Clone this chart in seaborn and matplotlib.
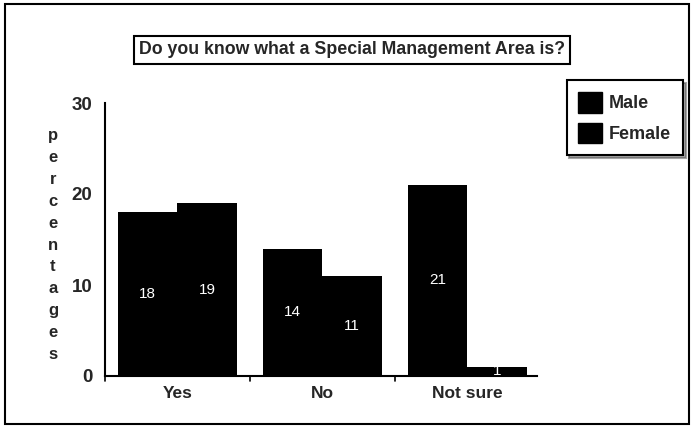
import matplotlib
matplotlib.use("Agg")
import matplotlib.pyplot as plt
import seaborn as sns
import pandas as pd
from matplotlib.patches import Rectangle, Patch

categories = ["Yes", "No", "Not sure"]
male = [18, 14, 21]
female = [19, 11, 1]
series = ["Male", "Female"]
yticks = [0, 10, 20, 30]

df = pd.DataFrame({
    "answer": categories * 2,
    "sex": ["Male"] * 3 + ["Female"] * 3,
    "pct": male + female,
})

sns.set_style("white")
plt.rcParams["font.family"] = ["Liberation Sans", "DejaVu Sans"]

fig = plt.figure(figsize=(6.94, 4.28), dpi=100)
ax = fig.add_axes([105/694, 1-376/428, (537-105)/694, (376-103)/428])

sns.barplot(data=df, x="answer", y="pct", hue="sex", order=categories,
            hue_order=series, palette=["black", "black"], width=0.82, gap=0,
            edgecolor="black", linewidth=0, ax=ax, legend=False)

for c in ax.containers:
    ax.bar_label(c, label_type="center", color="white", fontsize=11)

ax.set_xlim(-0.5, 2.48)
ax.set_ylim(0, 30)
ax.set_yticks(yticks)
ax.set_yticklabels([str(t) for t in yticks], fontsize=13.5, fontweight="bold")
ax.set_xticks([0, 1, 2])
ax.set_xticklabels(categories, fontsize=12.5, fontweight="bold")
ax.tick_params(axis="x", length=0, pad=7)
ax.tick_params(axis="y", length=0, pad=9)
for xb in [-0.5, 0.5, 1.5]:
    ax.plot([xb, xb], [0, -0.6], color="black", lw=1.2, clip_on=False)
ax.set_xlabel("")
ax.set_ylabel("")
sns.despine(ax=ax)
ax.spines["left"].set_linewidth(1.5)
ax.spines["bottom"].set_linewidth(1.5)
ax.spines["left"].set_color("black")
ax.spines["bottom"].set_color("black")

# vertical stacked y label
fig.text(53/694, 1-245/428, "\n".join("percentages"), ha="center", va="center",
         fontsize=12, fontweight="bold", linespacing=1.58)

# title in box
fig.text(352/694, 1-50/428, "Do you know what a Special Management Area is?",
         ha="center", va="center", fontsize=12.8, fontweight="bold",
         bbox=dict(boxstyle="square,pad=0.3", facecolor="white", edgecolor="black", lw=1.5))

# legend
handles = [Patch(facecolor="black", edgecolor="black") for _ in series]
leg = fig.legend(handles, series, loc="upper right", bbox_to_anchor=(683/694, 1-80/428),
                 prop={"weight": "bold", "size": 13}, frameon=True, fancybox=False,
                 shadow=True, handlelength=1.3, handleheight=1.4, handletextpad=0.4,
                 borderpad=0.65, labelspacing=0.55, borderaxespad=0)
leg.get_frame().set_edgecolor("black")
leg.get_frame().set_linewidth(1.5)

# figure border
fig.patches.append(Rectangle((5/694, 4/428), 684/694, 420/428, transform=fig.transFigure,
                             fill=False, edgecolor="black", lw=1.5))

fig.savefig("out.png", dpi=100)
